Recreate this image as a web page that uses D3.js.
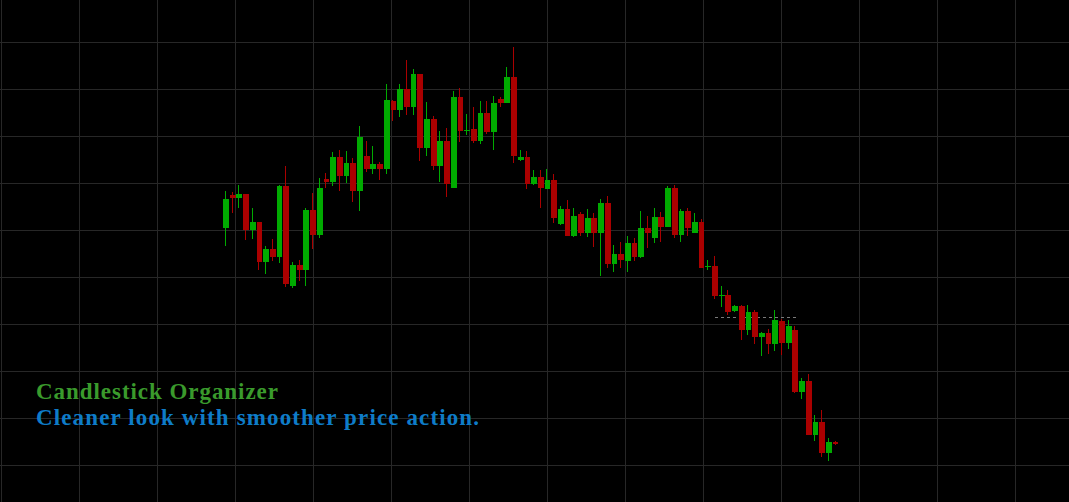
<!DOCTYPE html>
<html>
<head>
<meta charset="utf-8">
<script src="https://cdn.jsdelivr.net/npm/d3@7"></script>
<style>
  html, body { margin: 0; padding: 0; background: #000; overflow: hidden; }
  svg { display: block; }
</style>
</head>
<body>
<div id="chart"></div>
<script>
// ---- data (prices; index = bar number) ----
const opens  = [272,305,302,306,270,278,238,251,243,314,214,235,230,290,265,321,318,343,324,337,
                309,344,331,336,331,399,390,411,393,426,352,381,334,359,312,403,369.5,371,359,387,
                368,401,397,423,340,343,316,323,311,320,276,291,264,286,267,282,267,297,236,246,
                239,257,243,272,262,283,273,312,265,289,267,278,233,234,204.5,205,189,194,170,188,
                163,167,156,179,157,170,108,119,65,78,47,58];
const highs  = [309,308,315,306,292,278,254,261,315,334,238,240,292,307,322,327,348,350,349,342,
                374,359,354,338,416,400,416,440,431,426,398,384,369,372,409,412,386,393,399,399,
                404,403,433,453,350,349,330,330,331,326,294,300,292,288,291,287,301,304,255,258,
                264,262,289,284,292,288,314,315,291,292,287,281,240,244,214,210,195,195,195,190,
                168,171,190,181,180,174,122,126,85,90,62,59];
const lows   = [254,287,292,260,261,230,226,239,237,213,212,219,214,251,262,312,314,309,317,298,
                289,328,326,320,326,379,383,385,385,339,344,330,318,303,312,358,365,357,356,366,
                350,393,397,337,339,311,315,292,311,277,275,264,263,264,263,253,224,232,228,232,
                228,239,242,252,257,258,273,262,258,264,267,232,230,201,193,185,188,160,165,156,
                144,146,149,145,151,107,101,65,59,43,39,55];
const closes = [301,302,306,270,278,238,251,243,314,216,235,230,290,265,312,318,343,324,337,309,
                363,331,336,331,400,390,411,393,426,352,381,334,359,316,403,369,370,359,387,368,
                397,397,423,344,343,316,323,312,320,282,291,264,284,267,282,267,297,236,246,240,
                257,243,272,267,283,273,312,265,289,272,278,232,234,204,205,188,194,170,188,163,
                167,156,180,157,174,108,119,65,78,47,58,56.5];
const gridPrices = [35, 82, 129, 176, 223, 270, 317, 364, 411, 458];
const levelLine = { start: 73, end: 85.5, price: 183.5 };
const titleLines = ["Candlestick Organizer", "Cleaner look with smoother price action."];

// ---- layout ----
const W = 1069, H = 502;
const n = opens.length;
const x = d3.scaleLinear().domain([0, n - 1]).range([226, 835.5]);
const y = d3.scaleLinear().domain([0, 500]).range([500, 0]);
const bodyHalf = 2.9;
const UP = "#00aa00", DOWN = "#aa0000", GRID = "#272727";

const svg = d3.select("#chart").append("svg")
  .attr("width", W).attr("height", H)
  .style("background", "#000");

svg.append("rect").attr("width", W).attr("height", H).attr("fill", "#000");

// grid
const grid = svg.append("g").attr("shape-rendering", "crispEdges");
grid.selectAll("line.h").data(gridPrices).enter().append("line")
  .attr("class", "h")
  .attr("x1", 0).attr("x2", W)
  .attr("y1", d => Math.round(y(d)) + 0.5).attr("y2", d => Math.round(y(d)) + 0.5)
  .attr("stroke", GRID).attr("stroke-width", 1);
grid.selectAll("line.v").data(d3.range(1, W, 78)).enter().append("line")
  .attr("class", "v")
  .attr("y1", 0).attr("y2", H)
  .attr("x1", d => d + 0.5).attr("x2", d => d + 0.5)
  .attr("stroke", GRID).attr("stroke-width", 1);

// dashed level line
svg.append("line")
  .attr("x1", x(levelLine.start)).attr("x2", x(levelLine.end))
  .attr("y1", Math.round(y(levelLine.price)) + 0.5)
  .attr("y2", Math.round(y(levelLine.price)) + 0.5)
  .attr("stroke", "#7a7a7a").attr("stroke-width", 1)
  .attr("stroke-dasharray", "3,3")
  .attr("shape-rendering", "crispEdges");

// candles
const candles = d3.range(n).map(i => ({
  i, o: opens[i], h: highs[i], l: lows[i], c: closes[i]
}));
const g = svg.append("g").attr("shape-rendering", "crispEdges");
const cg = g.selectAll("g.candle").data(candles).enter().append("g").attr("class", "candle");
cg.append("rect")
  .attr("x", d => Math.round(x(d.i)) - 1)
  .attr("width", 1)
  .attr("y", d => Math.round(y(d.h)))
  .attr("height", d => Math.max(1, Math.round(y(d.l)) - Math.round(y(d.h))))
  .attr("fill", d => d.c >= d.o ? UP : DOWN);
cg.append("rect")
  .attr("x", d => Math.round(x(d.i) - bodyHalf))
  .attr("width", d => Math.round(x(d.i) + bodyHalf) - Math.round(x(d.i) - bodyHalf))
  .attr("y", d => Math.round(y(Math.max(d.o, d.c))))
  .attr("height", d => Math.max(1, Math.round(y(Math.min(d.o, d.c))) - Math.round(y(Math.max(d.o, d.c)))))
  .attr("fill", d => d.c >= d.o ? UP : DOWN);

// title text
const tg = svg.append("g")
  .style("font-family", "'Liberation Serif', 'DejaVu Serif', serif")
  .style("font-weight", "bold")
  .style("font-size", "23px");
tg.append("text").attr("x", 36).attr("y", 399)
  .attr("fill", "#3a9a2c")
  .attr("textLength", 242).attr("lengthAdjust", "spacing")
  .text(titleLines[0]);
tg.append("text").attr("x", 36).attr("y", 425)
  .attr("fill", "#0e7cc8")
  .attr("textLength", 443).attr("lengthAdjust", "spacing")
  .text(titleLines[1]);
</script>
</body>
</html>
